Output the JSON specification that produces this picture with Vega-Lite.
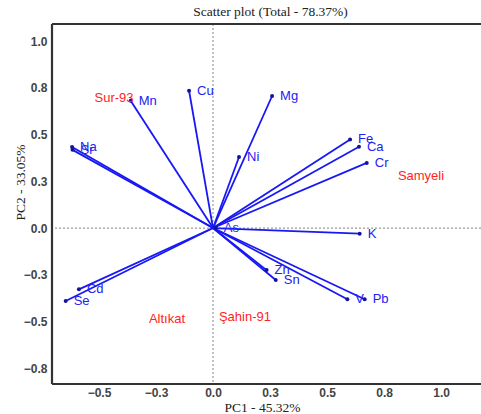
{
  "$schema": "https://vega.github.io/schema/vega-lite/v6.json",
  "autosize": "none",
  "width": 429,
  "height": 360,
  "padding": {"top": 24, "left": 52, "right": 0, "bottom": 30},
  "background": "white",
  "title": {"text": "Scatter plot (Total - 78.37%)", "font": "Liberation Serif", "fontSize": 13.5, "fontWeight": "normal", "color": "#222", "anchor": "middle", "offset": 4, "dx": 4},
  "config": {
    "view": {"stroke": null},
    "axis": {"grid": false, "ticks": false, "domain": false, "labelFont": "Liberation Sans", "labelFontSize": 12, "labelFontWeight": "bold", "labelColor": "#444", "titleFont": "Liberation Serif", "titleFontSize": 13.5, "titleFontWeight": "normal", "titleColor": "#222"}
  },
  "datasets": {
    "loadings": [
      {"var": "Mn", "pc1": -0.361, "pc2": 0.681},
      {"var": "Cu", "pc1": -0.105, "pc2": 0.734},
      {"var": "Na", "pc1": -0.618, "pc2": 0.433},
      {"var": "Sr", "pc1": -0.616, "pc2": 0.418},
      {"var": "Mg", "pc1": 0.259, "pc2": 0.706},
      {"var": "Ni", "pc1": 0.114, "pc2": 0.38},
      {"var": "Fe", "pc1": 0.601, "pc2": 0.474},
      {"var": "Ca", "pc1": 0.64, "pc2": 0.435},
      {"var": "Cr", "pc1": 0.674, "pc2": 0.348},
      {"var": "K", "pc1": 0.643, "pc2": -0.03},
      {"var": "V", "pc1": 0.589, "pc2": -0.381},
      {"var": "Pb", "pc1": 0.665, "pc2": -0.381},
      {"var": "Zn", "pc1": 0.235, "pc2": -0.225},
      {"var": "Sn", "pc1": 0.275, "pc2": -0.278},
      {"var": "As", "pc1": 0.012, "pc2": 0.002},
      {"var": "Cd", "pc1": -0.588, "pc2": -0.328},
      {"var": "Se", "pc1": -0.646, "pc2": -0.39}
    ],
    "sites": [
      {"site": "Sur-93", "pc1": -0.434, "pc2": 0.695},
      {"site": "Samyeli", "pc1": 0.912, "pc2": 0.278},
      {"site": "Altıkat", "pc1": -0.202, "pc2": -0.487},
      {"site": "Şahin-91", "pc1": 0.14, "pc2": -0.476}
    ],
    "frameV": [{"x": -0.706}],
    "frameH": [{"y": 1.091}, {"y": -0.834}]
  },
  "layer": [
    {
      "data": {"values": [{}]},
      "mark": {"type": "rule", "color": "#999", "strokeDash": [2, 2], "strokeWidth": 1.2},
      "encoding": {"x": {"datum": 0, "type": "quantitative"}}
    },
    {
      "data": {"values": [{}]},
      "mark": {"type": "rule", "color": "#999", "strokeDash": [2, 2], "strokeWidth": 1.2},
      "encoding": {"y": {"datum": 0, "type": "quantitative"}}
    },
    {
      "data": {"name": "loadings"},
      "mark": {"type": "rule", "color": "#1818f5", "strokeWidth": 1.8},
      "encoding": {
        "x": {"field": "pc1", "type": "quantitative", "scale": {"domain": [-0.706, 1.175], "nice": false, "zero": false},
          "axis": {"values": [-0.5, -0.25, 0, 0.25, 0.5, 0.75, 1.0], "format": ".1f", "labelPadding": 3, "title": "PC1 - 45.32%", "titleX": 210, "titleY": 23, "titleBaseline": "middle", "titleAnchor": "start", "titleAlign": "center"}},
        "y": {"field": "pc2", "type": "quantitative", "scale": {"domain": [-0.834, 1.091], "nice": false, "zero": false},
          "axis": {"values": [-0.75, -0.5, -0.25, 0, 0.25, 0.5, 0.75, 1.0], "format": ".1f", "labelPadding": 5, "title": "PC2 - 33.05%", "titleX": -32, "titleY": 158, "titleAngle": -90, "titleBaseline": "middle", "titleAlign": "center", "titleAnchor": "start"}},
        "x2": {"datum": 0},
        "y2": {"datum": 0}
      }
    },
    {
      "data": {"name": "frameV"},
      "mark": {"type": "rule", "color": "#333", "strokeWidth": 2.2},
      "encoding": {"x": {"field": "x", "type": "quantitative"}}
    },
    {
      "data": {"name": "frameH"},
      "mark": {"type": "rule", "color": "#333", "strokeWidth": 2.2},
      "encoding": {"y": {"field": "y", "type": "quantitative"}}
    },
    {
      "data": {"name": "loadings"},
      "mark": {"type": "point", "filled": true, "color": "#14149a", "size": 16, "opacity": 1},
      "encoding": {
        "x": {"field": "pc1", "type": "quantitative"},
        "y": {"field": "pc2", "type": "quantitative"}
      }
    },
    {
      "data": {"name": "loadings"},
      "mark": {"type": "text", "color": "#2222f2", "font": "Liberation Sans", "fontSize": 13, "align": "left", "baseline": "middle", "dx": 8},
      "encoding": {
        "x": {"field": "pc1", "type": "quantitative"},
        "y": {"field": "pc2", "type": "quantitative"},
        "text": {"field": "var"}
      }
    },
    {
      "data": {"name": "sites"},
      "mark": {"type": "text", "color": "#ff2424", "font": "Liberation Sans", "fontSize": 13, "align": "center", "baseline": "middle"},
      "encoding": {
        "x": {"field": "pc1", "type": "quantitative"},
        "y": {"field": "pc2", "type": "quantitative"},
        "text": {"field": "site"}
      }
    }
  ]
}
